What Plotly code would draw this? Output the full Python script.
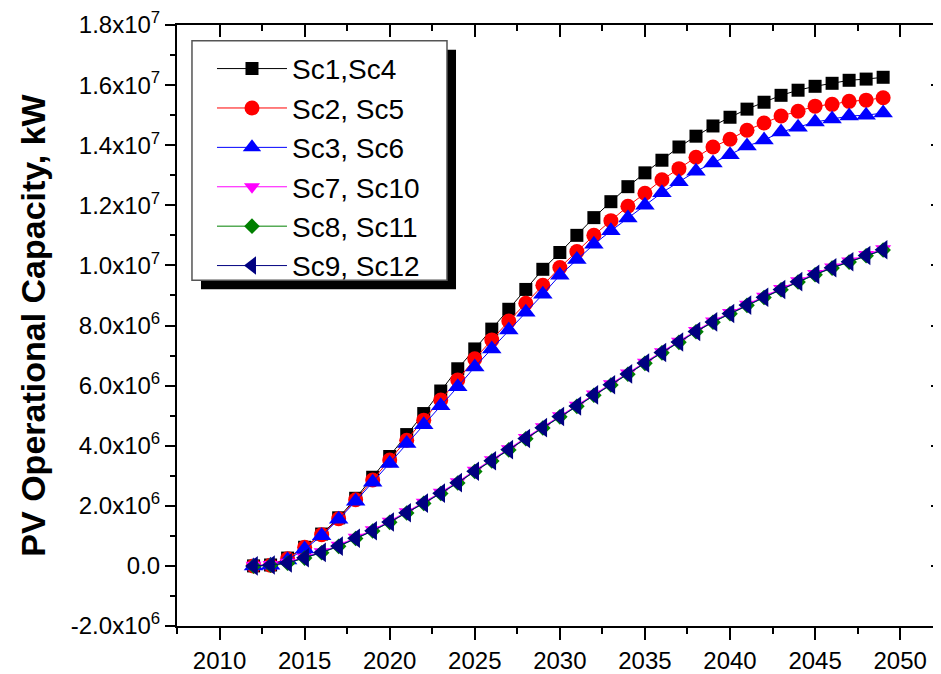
import plotly.graph_objects as go

years = list(range(2012, 2050))

sc1_sc4 = [0.0, 0.03, 0.26, 0.62, 1.06, 1.60, 2.25, 2.95, 3.64, 4.37, 5.07, 5.82, 6.56, 7.22,
           7.88, 8.54, 9.20, 9.87, 10.43, 11.00, 11.59, 12.12, 12.62, 13.08, 13.50, 13.94,
           14.30, 14.64, 14.93, 15.20, 15.43, 15.66, 15.83, 15.96, 16.06, 16.16, 16.20, 16.26]
sc2_sc5 = [0.0, 0.02, 0.24, 0.62, 1.04, 1.57, 2.20, 2.86, 3.52, 4.18, 4.85, 5.52, 6.19, 6.89,
           7.52, 8.15, 8.74, 9.34, 9.93, 10.46, 11.00, 11.49, 11.97, 12.40, 12.85, 13.22,
           13.60, 13.94, 14.20, 14.50, 14.74, 14.97, 15.13, 15.30, 15.36, 15.46, 15.50, 15.58]
sc3_sc6 = [0.0, 0.02, 0.20, 0.56, 1.00, 1.55, 2.15, 2.78, 3.41, 4.07, 4.70, 5.33, 5.96, 6.62,
           7.22, 7.85, 8.44, 9.04, 9.67, 10.20, 10.70, 11.15, 11.58, 12.00, 12.42, 12.78,
           13.13, 13.41, 13.68, 13.97, 14.17, 14.44, 14.60, 14.77, 14.87, 14.97, 15.00, 15.07]
sc7_sc10 = [0.02, 0.05, 0.12, 0.29, 0.47, 0.69, 0.95, 1.20, 1.49, 1.80, 2.12, 2.45, 2.80, 3.18,
            3.53, 3.90, 4.27, 4.63, 5.00, 5.35, 5.72, 6.06, 6.42, 6.78, 7.13, 7.48, 7.83,
            8.15, 8.43, 8.71, 8.97, 9.23, 9.49, 9.73, 9.95, 10.15, 10.36, 10.55]
sc8_sc11 = [-0.01, 0.02, 0.09, 0.26, 0.44, 0.65, 0.91, 1.16, 1.45, 1.76, 2.08, 2.41, 2.76, 3.14,
            3.49, 3.86, 4.23, 4.59, 4.96, 5.31, 5.68, 6.02, 6.38, 6.74, 7.09, 7.44, 7.79,
            8.11, 8.39, 8.67, 8.93, 9.19, 9.45, 9.69, 9.91, 10.11, 10.32, 10.51]
sc9_sc12 = [0.0, 0.03, 0.10, 0.27, 0.45, 0.66, 0.92, 1.17, 1.46, 1.77, 2.09, 2.42, 2.77, 3.15,
            3.50, 3.87, 4.24, 4.60, 4.97, 5.32, 5.69, 6.03, 6.39, 6.75, 7.10, 7.45, 7.80,
            8.12, 8.40, 8.68, 8.94, 9.20, 9.46, 9.70, 9.92, 10.12, 10.33, 10.52]

series_names = ["Sc1,Sc4", "Sc2, Sc5", "Sc3, Sc6", "Sc7, Sc10", "Sc8, Sc11", "Sc9, Sc12"]
series_values = [sc1_sc4, sc2_sc5, sc3_sc6, sc7_sc10, sc8_sc11, sc9_sc12]
series_colors = ["#000000", "#FF0000", "#0000FF", "#FF00FF", "#008000", "#000080"]
series_symbols = ["square", "circle", "triangle-up", "triangle-down", "diamond", "triangle-left"]
series_sizes = [13, 15, 17, 14, 12, 17]

x_tickvals = [2010, 2015, 2020, 2025, 2030, 2035, 2040, 2045, 2050]
y_tickvals = [-2e6, 0, 2e6, 4e6, 6e6, 8e6, 1e7, 1.2e7, 1.4e7, 1.6e7, 1.8e7]
y_ticktext = ["-2.0x10<sup>6</sup>", "0.0", "2.0x10<sup>6</sup>", "4.0x10<sup>6</sup>",
              "6.0x10<sup>6</sup>", "8.0x10<sup>6</sup>", "1.0x10<sup>7</sup>",
              "1.2x10<sup>7</sup>", "1.4x10<sup>7</sup>", "1.6x10<sup>7</sup>",
              "1.8x10<sup>7</sup>"]
y_title = "<b>PV Operational Capacity, kW</b>"

FONT = "Liberation Sans, Arial, sans-serif"

fig = go.Figure()
for name, vals, col, sym, sz in zip(series_names, series_values, series_colors,
                                    series_symbols, series_sizes):
    fig.add_trace(go.Scatter(
        x=years, y=[v * 1e6 for v in vals], name=name, mode="lines+markers",
        line=dict(color=col, width=1),
        marker=dict(symbol=sym, size=sz, color=col, line=dict(width=0)),
        legendgroup=name,
    ))

# empty trace to activate mirrored axes (top / right, inward ticks)
fig.add_trace(go.Scatter(x=[], y=[], xaxis="x2", yaxis="y2", showlegend=False,
                         hoverinfo="skip"))

xr = [2007.5, 2052.4]
yr = [-2e6, 1.8e7]

axis_common = dict(showline=True, linewidth=2, linecolor="black", showgrid=False,
                   zeroline=False, tickcolor="black", tickwidth=2)

# page body has an 8px default margin, so the figure is 8px smaller than the window
fig.update_layout(
    width=933, height=666,
    margin=dict(l=169, r=0, t=13, b=48, pad=0),
    paper_bgcolor="white", plot_bgcolor="white",
    font=dict(family=FONT, color="black"),
    showlegend=True,
    xaxis=dict(range=xr, tickvals=x_tickvals, ticks="outside", ticklen=12,
               minor=dict(dtick=2.5, tick0=2010, ticks="outside", ticklen=6,
                          tickwidth=2, tickcolor="black"),
               ticklabeloverflow="allow",
               tickfont=dict(size=24, family=FONT), **axis_common),
    yaxis=dict(range=yr, tickvals=y_tickvals, ticktext=y_ticktext, ticks="outside",
               ticklen=10,
               minor=dict(dtick=1e6, tick0=0, ticks="outside", ticklen=5,
                          tickwidth=2, tickcolor="black"),
               ticklabeloverflow="allow",
               tickfont=dict(size=24, family=FONT),
               title=dict(text=y_title, font=dict(size=34, family=FONT), standoff=15),
               **axis_common),
    xaxis2=dict(range=xr, overlaying="x", side="top", anchor="y2", tickvals=x_tickvals,
                ticks="inside", ticklen=12, showticklabels=False,
                minor=dict(dtick=2.5, tick0=2010, ticks="inside", ticklen=6,
                           tickwidth=2, tickcolor="black"),
                **axis_common),
    yaxis2=dict(range=yr, overlaying="y", side="right", anchor="x2", tickvals=y_tickvals,
                ticks="inside", ticklen=10, showticklabels=False,
                minor=dict(dtick=1e6, tick0=0, ticks="inside", ticklen=5,
                           tickwidth=2, tickcolor="black"),
                **axis_common),
    legend=dict(x=0.0458, y=0.9686, xanchor="left", yanchor="top",
                bgcolor="rgba(0,0,0,0)", borderwidth=0,
                font=dict(size=28, family=FONT), itemwidth=70,
                traceorder="grouped", tracegroupgap=0),
    shapes=[
        dict(type="rect", xref="paper", yref="paper", x0=0.0314, x1=0.3652,
             y0=0.5603, y1=0.9587, fillcolor="black", line=dict(width=0), layer="above"),
        dict(type="rect", xref="paper", yref="paper", x0=0.0196, x1=0.3534,
             y0=0.5752, y1=0.9736, fillcolor="white",
             line=dict(color="#555555", width=1.5), layer="above"),
    ],
)

fig.write_html("out.html")
